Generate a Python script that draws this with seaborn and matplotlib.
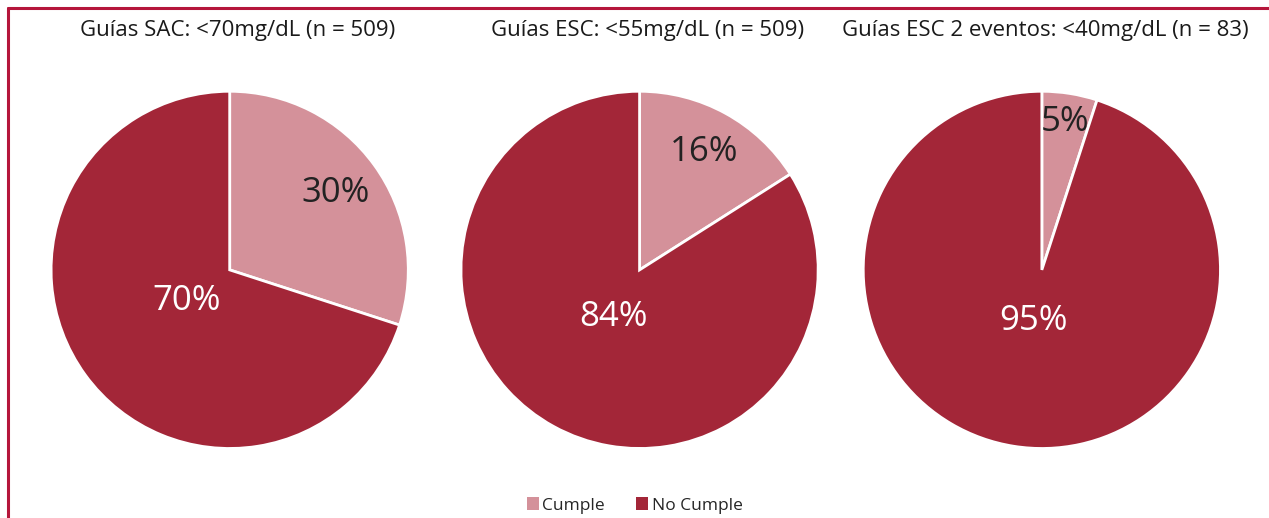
import numpy as np
import matplotlib.pyplot as plt
import seaborn as sns
from matplotlib.lines import Line2D
from matplotlib.patches import Patch

sns.set_style("white")
plt.rcParams['font.family'] = ['Open Sans', 'DejaVu Sans']

titles = ['Guías SAC: <70mg/dL (n = 509)',
          'Guías ESC: <55mg/dL (n = 509)',
          'Guías ESC 2 eventos: <40mg/dL (n = 83)']
categories = ['Cumple', 'No Cumple']
cumple = [30, 16, 5]
no_cumple = [70, 84, 95]

colors = ['#D4919A', '#A32638']
text_colors = ['#222222', 'white']
# axes layout (figure fractions) and label distances per pie
centers_x = [0.181, 0.504, 0.821]
title_x = [0.187, 0.510, 0.824]
cumple_dist = [0.73, 0.75, 0.84]
no_cumple_dist = [0.3, 0.3, 0.29]

fig = plt.figure(figsize=(12.69, 5.18), dpi=100)
w, h, cy = 0.2815, 0.6897, 0.479

for i in range(3):
    ax = fig.add_axes([centers_x[i] - w / 2, cy - h / 2, w, h])
    wedges, texts, autotexts = ax.pie(
        [cumple[i], no_cumple[i]], colors=colors, startangle=90,
        counterclock=False, autopct='%1.0f%%',
        wedgeprops=dict(edgecolor='white', linewidth=2),
        textprops=dict(fontsize=25))
    dists = [cumple_dist[i], no_cumple_dist[i]]
    for wdg, t, d, tc in zip(wedges, autotexts, dists, text_colors):
        ang = np.deg2rad((wdg.theta1 + wdg.theta2) / 2)
        t.set_position((d * np.cos(ang), d * np.sin(ang)))
        t.set_color(tc)
    ax.set_xlim(-1, 1)
    ax.set_ylim(-1, 1)
    ax.set_aspect('equal')
    fig.text(title_x[i], 0.942, titles[i], ha='center', va='center',
             fontsize=16, color='#1a1a1a')

handles = [Patch(facecolor=c, edgecolor='none') for c in colors]
fig.legend(handles, categories, loc='center', bbox_to_anchor=(0.5, 0.024),
           ncol=2, frameon=False, fontsize=12.5, handlelength=0.7,
           handleheight=0.7, handletextpad=0.2, columnspacing=1.8)

# frame lines (left and top)
border = '#B5163B'
fig.add_artist(Line2D([7.5 / 1269, 7.5 / 1269], [0, 1 - 7.5 / 518],
                      color=border, lw=2.2, transform=fig.transFigure))
fig.add_artist(Line2D([7.5 / 1269, 1], [1 - 7.5 / 518, 1 - 7.5 / 518],
                      color=border, lw=2.2, transform=fig.transFigure))

fig.savefig('out.png', dpi=100)
